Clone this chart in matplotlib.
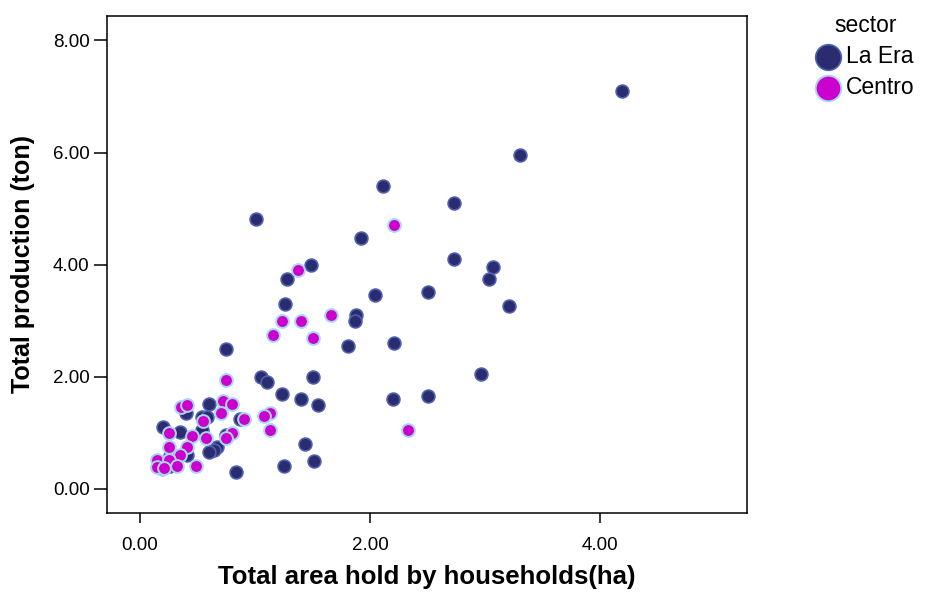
import matplotlib.pyplot as plt

plt.rcParams['font.family'] = ['Liberation Sans', 'DejaVu Sans']

# La Era households: area (ha) vs production (ton)
la_era_area = [4.19, 3.30, 2.11, 2.73, 1.01, 1.92, 2.73, 3.07, 1.49, 1.28,
               3.03, 2.04, 2.50, 1.26, 3.21, 1.88, 1.87, 1.81, 2.21, 0.75,
               2.96, 1.05, 1.10, 1.50, 1.23, 1.40, 1.55, 2.20, 2.50, 1.43,
               1.25, 1.51, 0.835, 0.60, 0.40, 0.54, 0.58, 0.87, 0.20, 0.35,
               0.54, 0.75, 0.67, 0.64, 0.60, 0.41, 0.26, 0.19, 0.26, 0.17]
la_era_prod = [7.10, 5.95, 5.40, 5.10, 4.81, 4.48, 4.10, 3.95, 4.00, 3.75,
               3.75, 3.46, 3.51, 3.30, 3.26, 3.10, 2.99, 2.55, 2.60, 2.50,
               2.05, 2.00, 1.90, 2.00, 1.70, 1.61, 1.50, 1.60, 1.65, 0.81,
               0.40, 0.50, 0.30, 1.51, 1.35, 1.28, 1.28, 1.25, 1.10, 1.01,
               1.05, 0.96, 0.75, 0.70, 0.65, 0.60, 0.58, 0.46, 0.40, 0.40]

# Centro households
centro_area = [2.21, 1.37, 1.66, 1.23, 1.40, 1.16, 1.50, 0.745, 2.33, 0.36,
               0.41, 0.72, 0.80, 0.70, 0.55, 0.90, 1.13, 1.08, 1.13, 0.25,
               0.45, 0.57, 0.80, 0.75, 0.25, 0.41, 0.35, 0.15, 0.25, 0.32,
               0.19, 0.15, 0.49, 0.21]
centro_prod = [4.70, 3.90, 3.10, 3.00, 3.00, 2.75, 2.70, 1.95, 1.05, 1.46,
               1.50, 1.56, 1.51, 1.36, 1.21, 1.25, 1.35, 1.30, 1.05, 1.00,
               0.95, 0.90, 1.00, 0.90, 0.75, 0.75, 0.60, 0.52, 0.52, 0.40,
               0.35, 0.39, 0.40, 0.38]

xticks = [0, 2, 4]
yticks = [0, 2, 4, 6, 8]

fig = plt.figure(figsize=(9.25, 5.92), dpi=100)
ax = fig.add_axes([0.1157, 0.1334, 0.692, 0.840])

ax.scatter(la_era_area, la_era_prod, s=85, c='#2b2c70', edgecolors='#4d5fae',
           linewidths=1.2, label='La Era', zorder=3)
ax.scatter(centro_area, centro_prod, s=85, c='#cc00cc', edgecolors='#a9d6ef',
           linewidths=1.4, label='Centro', zorder=4)

ax.set_xlim(-0.287, 5.278)
ax.set_ylim(-0.43, 8.44)
ax.set_xticks(xticks)
ax.set_xticklabels(['%.2f' % v for v in xticks])
ax.set_yticks(yticks)
ax.set_yticklabels(['%.2f' % v for v in yticks])
ax.tick_params(axis='y', length=9.5, width=1.1, labelsize=13.5, pad=3)
ax.tick_params(axis='x', length=7.5, width=1.1, labelsize=13.5, pad=10)
for sp in ax.spines.values():
    sp.set_linewidth(1.1)

ax.set_xlabel('Total area hold by households(ha)', fontsize=18.5,
              fontweight='bold', labelpad=8)
ax.set_ylabel('Total production (ton)', fontsize=18, fontweight='bold',
              labelpad=13)

leg = ax.legend(title='sector', loc='upper left', bbox_to_anchor=(1.094, 1.022),
                frameon=False, fontsize=16.5, title_fontsize=16.5,
                markerscale=2.0, handlelength=1.0, handletextpad=0.3,
                labelspacing=0.35, borderaxespad=0)

fig.savefig('out.png', dpi=100)
